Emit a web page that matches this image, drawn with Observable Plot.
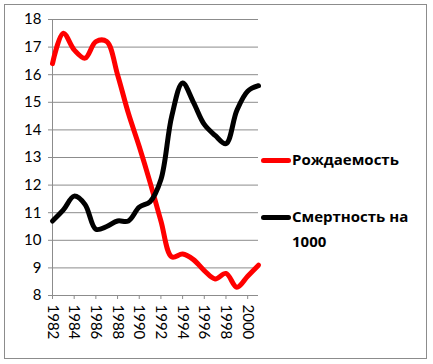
<!DOCTYPE html>
<html><head><meta charset="utf-8">
<script src="https://cdn.jsdelivr.net/npm/d3@7"></script>
<script src="https://cdn.jsdelivr.net/npm/@observablehq/plot@0.6"></script>
<style>
body{margin:0;background:#fff;}
#wrap{position:relative;width:433px;height:364px;font-family:Lato,"Open Sans",sans-serif;}
#frame{position:absolute;left:4px;top:4px;width:421px;height:353px;border:1px solid #8c8c8c;}
.leg{position:absolute;font-weight:bold;font-size:15px;font-family:"Open Sans",Lato,sans-serif;color:#000;line-height:25px;white-space:nowrap;}
.sw{position:absolute;height:5px;border-radius:3px;width:30px;}
svg{position:absolute;left:0;top:0;}
</style></head>
<body><div id="wrap"><div id="frame"></div></div>
<script>
const years = [1982,1983,1984,1985,1986,1987,1988,1989,1990,1991,1992,1993,1994,1995,1996,1997,1998,1999,2000,2001];
const births = [16.4,17.5,16.9,16.6,17.2,17.2,16.0,14.6,13.4,12.1,10.7,9.4,9.5,9.3,8.9,8.6,8.8,8.3,8.7,9.1];
const deaths = [10.7,11.1,11.6,11.3,10.4,10.5,10.7,10.7,11.2,11.4,12.2,14.5,15.7,15.0,14.2,13.8,13.5,14.7,15.4,15.6];
const seriesNames = ["Рождаемость","Смертность на 1000"];
const seriesColors = ["#ff0000","#000000"];
const xTicks = [1982,1984,1986,1988,1990,1992,1994,1996,1998,2000];
const yTicks = [8,9,10,11,12,13,14,15,16,17,18];

const rowsB = years.map((y,i)=>({year:y,value:births[i]}));
const rowsD = years.map((y,i)=>({year:y,value:deaths[i]}));

const chart = Plot.plot({
  width:433, height:364,
  marginLeft:52, marginRight:175, marginTop:19, marginBottom:69,
  style:{fontFamily:"Lato, 'Open Sans', sans-serif", fontSize:"15px", color:"#000", background:"transparent"},
  x:{domain:[1982,2001]},
  y:{domain:[8,18]},
  marks:[
    Plot.gridY(yTicks,{stroke:"#8c8c8c",strokeOpacity:1}),
    Plot.ruleX([1982],{stroke:"#8c8c8c"}),
    Plot.ruleY([8],{stroke:"#8c8c8c"}),
    Plot.axisY(yTicks,{tickSize:4,tickPadding:7,stroke:"#8c8c8c",fill:"#000",label:null,fontSize:15}),
    Plot.axisX(xTicks,{tickSize:4,tickPadding:5,tickRotate:90,tickFormat:d=>String(d),stroke:"#8c8c8c",fill:"#000",label:null,fontSize:15}),
    Plot.line(rowsB,{x:"year",y:"value",stroke:seriesColors[0],strokeWidth:5,curve:"catmull-rom"}),
    Plot.line(rowsD,{x:"year",y:"value",stroke:seriesColors[1],strokeWidth:5,curve:"catmull-rom"})
  ]
});
const wrap = document.getElementById("wrap");
wrap.appendChild(chart);

function legend(i, top, lines){
  const sw=document.createElement("div"); sw.className="sw";
  sw.style.left="261px"; sw.style.top=(top-2)+"px"; sw.style.background=seriesColors[i];
  wrap.appendChild(sw);
  const t=document.createElement("div"); t.className="leg";
  t.style.left="292px"; t.style.top=(top-13)+"px";
  t.innerHTML=lines.join("<br>");
  wrap.appendChild(t);
}
legend(0,160,[seriesNames[0]]);
legend(1,217,["Смертность на","1000"]);
</script></body></html>
